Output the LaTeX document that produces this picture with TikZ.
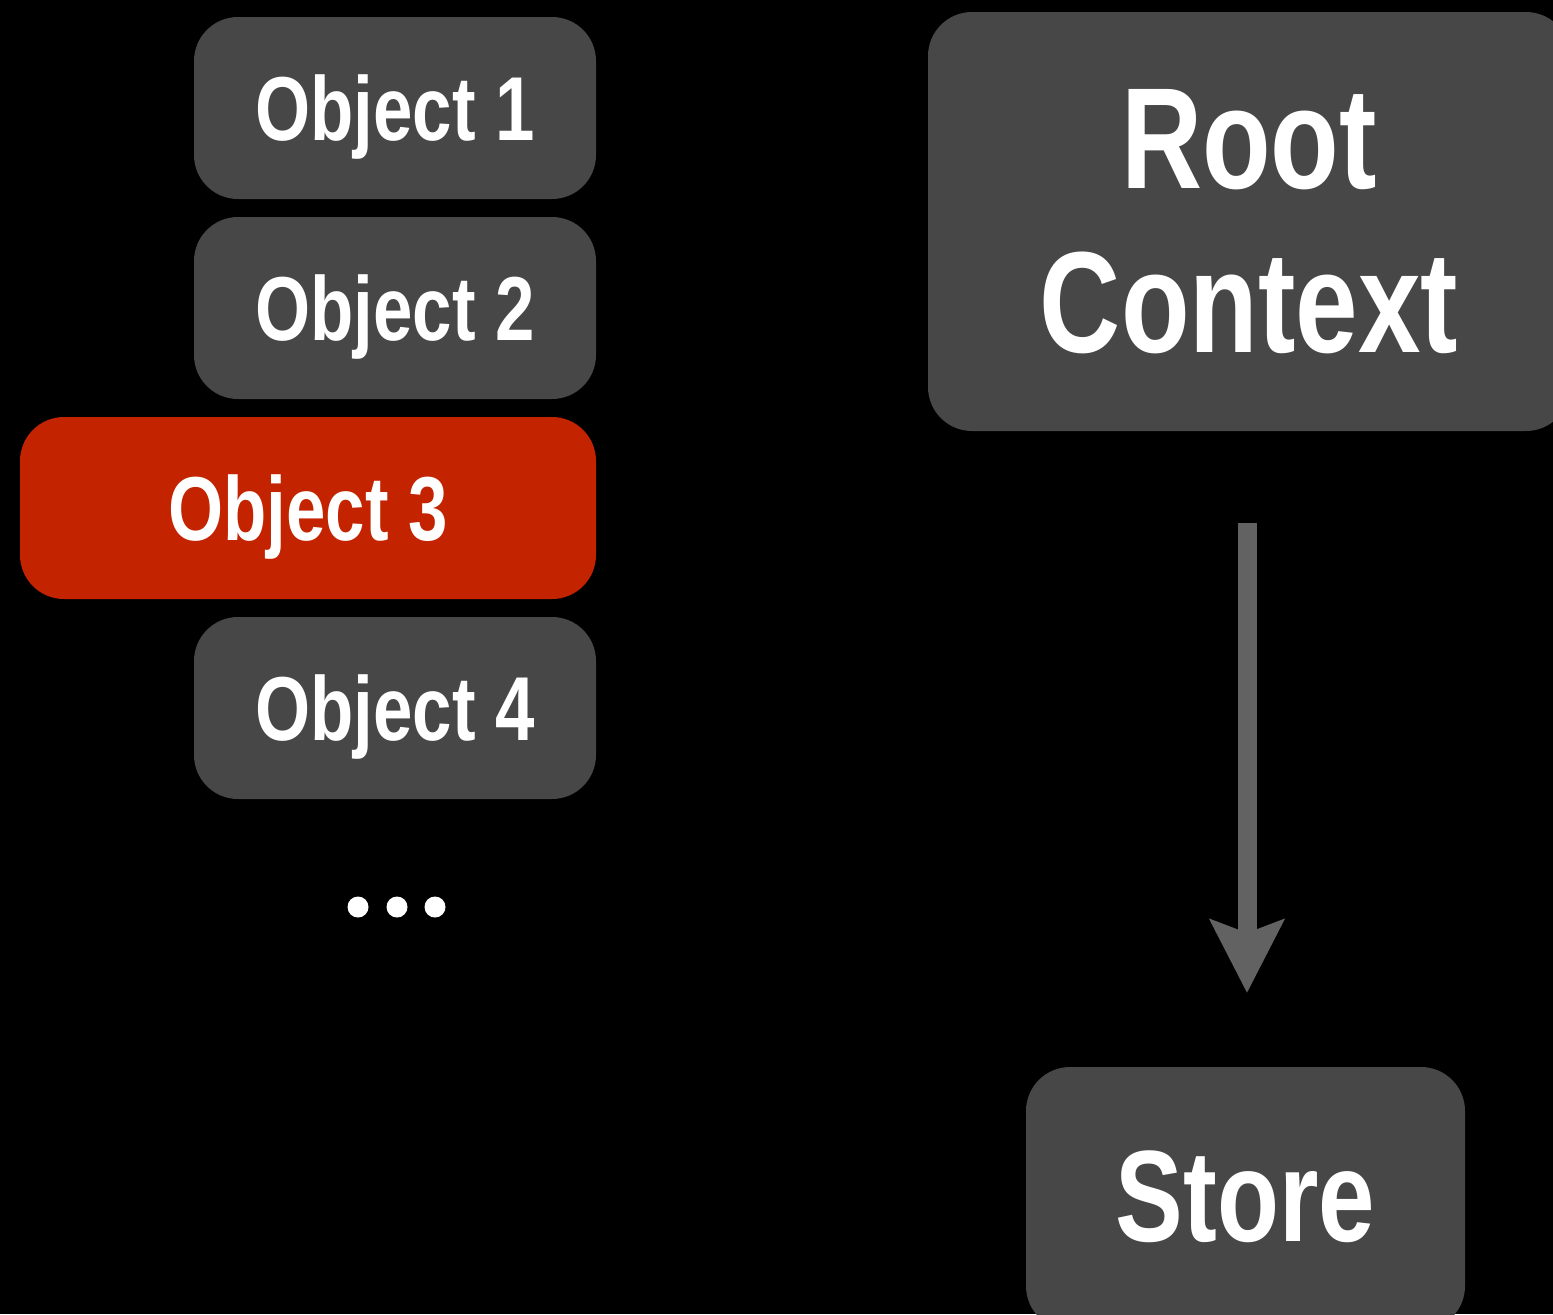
\documentclass[tikz,border=0pt]{standalone}
\usepackage{fontspec}
\setmainfont[FakeStretch=0.78]{Liberation Sans}
\usetikzlibrary{arrows.meta}
\definecolor{boxgray}{HTML}{474747}
\definecolor{boxred}{HTML}{C42300}
\definecolor{arrowgray}{HTML}{626262}
\tikzset{
  x=0.5pt, y=-0.5pt,
  objbox/.style={fill=boxgray, draw=none, rounded corners=22pt, text=white,
    font=\bfseries\fontsize{45.4}{50}\selectfont, inner sep=0pt,
    text height=32.5pt, text depth=0pt, minimum height=91pt},
  bigbox/.style={fill=boxgray, draw=none, rounded corners=22pt, text=white,
    inner sep=0pt, align=center},
  dotc/.style={circle, fill=white, draw=none, minimum size=10.5pt, inner sep=0pt},
  flowarrow/.style={draw=arrowgray, line width=9.5pt,
    -{Stealth[length=36.5pt, width=36.5pt, inset=6.5pt]}}
}
\begin{document}
\begin{tikzpicture}
\fill[black] (0,0) rectangle (1553,1314);
\useasboundingbox (0,0) rectangle (1553,1314);

\node[objbox, minimum width=201pt] (o1) at (395,108) {Object 1};
\node[objbox, minimum width=201pt] (o2) at (395,308) {Object 2};
\node[objbox, fill=boxred, minimum width=288pt] (o3) at (308,508) {Object 3};
\node[objbox, minimum width=201pt] (o4) at (395,708) {Object 4};

\node[dotc] (d1) at (358,907) {};
\node[dotc] (d2) at (397,907) {};
\node[dotc] (d3) at (435,907) {};

\node[bigbox, minimum width=321pt, minimum height=209.5pt,
  font=\bfseries\fontsize{72}{82}\selectfont] (root) at (1249,221.5)
  {Root\\Context};

\node[bigbox, minimum width=219.5pt, minimum height=131.5pt,
  font=\bfseries\fontsize{65}{70}\selectfont] (store) at (1245.5,1198.5)
  {\raisebox{2pt}{Store}};

\draw[flowarrow, shorten <=46pt, shorten >=37pt] (1247,431) -- (1247,1067);
\end{tikzpicture}
\end{document}
